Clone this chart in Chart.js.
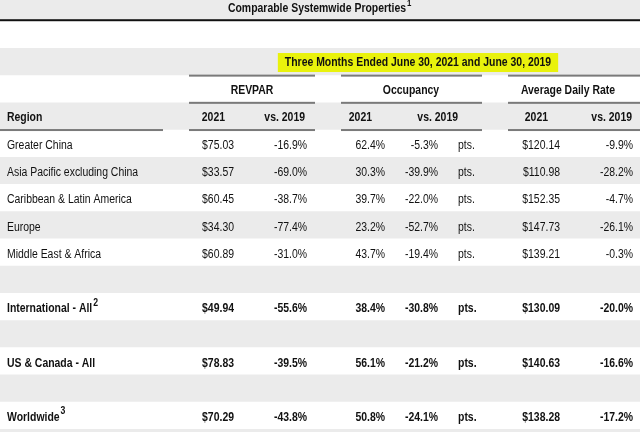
<!DOCTYPE html>
<html>
<head>
<meta charset="utf-8">
<script src="https://cdn.jsdelivr.net/npm/chart.js@4.4.1/dist/chart.umd.min.js"></script>
<style>
  html, body { margin: 0; padding: 0; background: #fff; }
  #wrap { width: 640px; height: 432px; }
</style>
</head>
<body>
<div id="wrap"><canvas id="tabla" width="640" height="432"></canvas></div>
<script>
// datos de la tabla
const titulo = "Comparable Systemwide Properties";
const periodo = "Three Months Ended June 30, 2021 and June 30, 2019";
const grupos = ["REVPAR", "Occupancy", "Average Daily Rate"];
const subtitulos = ["Region", "2021", "vs. 2019", "2021", "vs. 2019", "2021", "vs. 2019"];

const regiones = ["Greater China", "Asia Pacific excluding China", "Caribbean & Latin America",
  "Europe", "Middle East & Africa", "", "International - All", "", "US & Canada - All", "", "Worldwide"];
const notas = ["", "", "", "", "", "", "2", "", "", "", "3"];
const totales = [false, false, false, false, false, false, true, false, true, false, true];

const revpar2021 = ["$75.03", "$33.57", "$60.45", "$34.30", "$60.89", null, "$49.94", null, "$78.83", null, "$70.29"];
const revparVs2019 = ["-16.9%", "-69.0%", "-38.7%", "-77.4%", "-31.0%", null, "-55.6%", null, "-39.5%", null, "-43.8%"];
const ocup2021 = ["62.4%", "30.3%", "39.7%", "23.2%", "43.7%", null, "38.4%", null, "56.1%", null, "50.8%"];
const ocupVs2019 = ["-5.3%", "-39.9%", "-22.0%", "-52.7%", "-19.4%", null, "-30.8%", null, "-21.2%", null, "-24.1%"];
const adr2021 = ["$120.14", "$110.98", "$152.35", "$147.73", "$139.21", null, "$130.09", null, "$140.63", null, "$138.28"];
const adrVs2019 = ["-9.9%", "-28.2%", "-4.7%", "-26.1%", "-0.3%", null, "-20.0%", null, "-16.6%", null, "-17.2%"];

// filas: 0 titulo, 1 vacia, 2 periodo, 3 grupos, 4 subtitulos, 5.. datos, ultima franja gris
const filaDatos = 5;
const sombreado = [1, 0, 1, 0, 1, 0, 1, 0, 1, 0, 1, 0, 1, 0, 1, 0, 1];

// anclas de columnas (eje x de 0 a 640)
const colRegion = 7;
const colsDatos = [
  { vals: revpar2021, x: 234 },
  { vals: revparVs2019, x: 307 },
  { vals: ocup2021, x: 385 },
  { vals: ocupVs2019, x: 438 },
  { vals: adr2021, x: 560 },
  { vals: adrVs2019, x: 633 }
];
const colPts = 458;
const gruposX = [[189, 315], [341, 482], [508, 640]];
const gruposCentro = [252, 411, 568];
const subX = [[7, "left"], [225, "right"], [305, "right"], [372, "right"], [458, "right"], [548, "right"], [632, "right"]];

const fuente = '"Liberation Sans", Arial, sans-serif';
const colorTexto = "#111111";
const estrecho = 0.87; // el original se ve con letra condensada

// texto comprimido horizontalmente
function texto(ctx, t, x, y, align) {
  ctx.save();
  ctx.translate(x, y);
  ctx.scale(estrecho, 1);
  ctx.textAlign = align;
  ctx.fillText(t, 0, 0);
  ctx.restore();
}
const ancho = (ctx, t) => ctx.measureText(t).width * estrecho;

const textoTabla = {
  id: "textoTabla",
  afterDatasetsDraw(chart) {
    const ctx = chart.ctx;
    const xs = chart.scales.x, ys = chart.scales.y;
    const X = v => xs.getPixelForValue(v);
    const Y = v => ys.getPixelForValue(v);

    ctx.save();
    ctx.textBaseline = "middle";

    // linea negra bajo el titulo
    ctx.fillStyle = "#111";
    ctx.fillRect(X(0), Y(0.5) - 2, X(640) - X(0), 2);

    // titulo
    ctx.fillStyle = colorTexto;
    ctx.font = "bold 12px " + fuente;
    texto(ctx, titulo, X(317), Y(0) + 1, "center");
    let w = ancho(ctx, titulo);
    ctx.font = "bold 9px " + fuente;
    texto(ctx, "1", X(317) + w / 2 + 1, Y(0) - 4, "left");

    // periodo resaltado
    ctx.font = "bold 12px " + fuente;
    w = ancho(ctx, periodo);
    const cx = X(418);
    ctx.fillStyle = "#e9f20c";
    ctx.fillRect(cx - w / 2 - 7, Y(2) - 9, w + 14, 19);
    ctx.fillStyle = colorTexto;
    texto(ctx, periodo, cx, Y(2) + 1, "center");

    // reglas de grupos
    ctx.fillStyle = "#7a7a7a";
    gruposX.forEach(([a, b]) => {
      ctx.fillRect(X(a), Y(2.5) - 1, X(b) - X(a), 2);
      ctx.fillRect(X(a), Y(3.5) - 1, X(b) - X(a), 2);
      ctx.fillRect(X(a), Y(4.5) - 1, X(b) - X(a), 2);
    });
    ctx.fillRect(X(0), Y(4.5) - 1, X(163) - X(0), 2);

    // grupos y subtitulos
    ctx.fillStyle = colorTexto;
    ctx.font = "bold 12px " + fuente;
    grupos.forEach((g, i) => texto(ctx, g, X(gruposCentro[i]), Y(3) + 1, "center"));
    subtitulos.forEach((s, i) => texto(ctx, s, X(subX[i][0]), Y(4) + 1, subX[i][1]));

    // filas de datos
    regiones.forEach((r, i) => {
      if (!r) return;
      const y = Y(filaDatos + i) + 2;
      const f = (totales[i] ? "bold " : "") + "12px " + fuente;
      ctx.font = f;
      texto(ctx, r, X(colRegion), y, "left");
      if (notas[i]) {
        const rw = ancho(ctx, r);
        ctx.font = "bold 10px " + fuente;
        texto(ctx, notas[i], X(colRegion) + rw + 1, y - 6, "left");
        ctx.font = f;
      }
      colsDatos.forEach(c => texto(ctx, c.vals[i], X(c.x), y, "right"));
      texto(ctx, "pts.", X(colPts), y, "left");
    });
    ctx.restore();
  }
};

new Chart(document.getElementById("tabla"), {
  type: "bar",
  data: {
    datasets: [{
      data: sombreado.map((s, i) => ({ y: i, x: [0, 640] })),
      backgroundColor: sombreado.map(s => s ? "#ebebeb" : "#ffffff"),
      borderWidth: 0,
      barPercentage: 1,
      categoryPercentage: 1
    }]
  },
  options: {
    indexAxis: "y",
    responsive: false,
    animation: false,
    devicePixelRatio: 1,
    layout: { padding: 0 },
    scales: {
      x: { type: "linear", min: 0, max: 640, offset: false, display: false },
      y: { type: "linear", reverse: true, min: -0.28, max: 15.6, offset: false, display: false }
    },
    plugins: { legend: { display: false }, tooltip: { enabled: false } }
  },
  plugins: [textoTabla]
});
</script>
</body>
</html>
